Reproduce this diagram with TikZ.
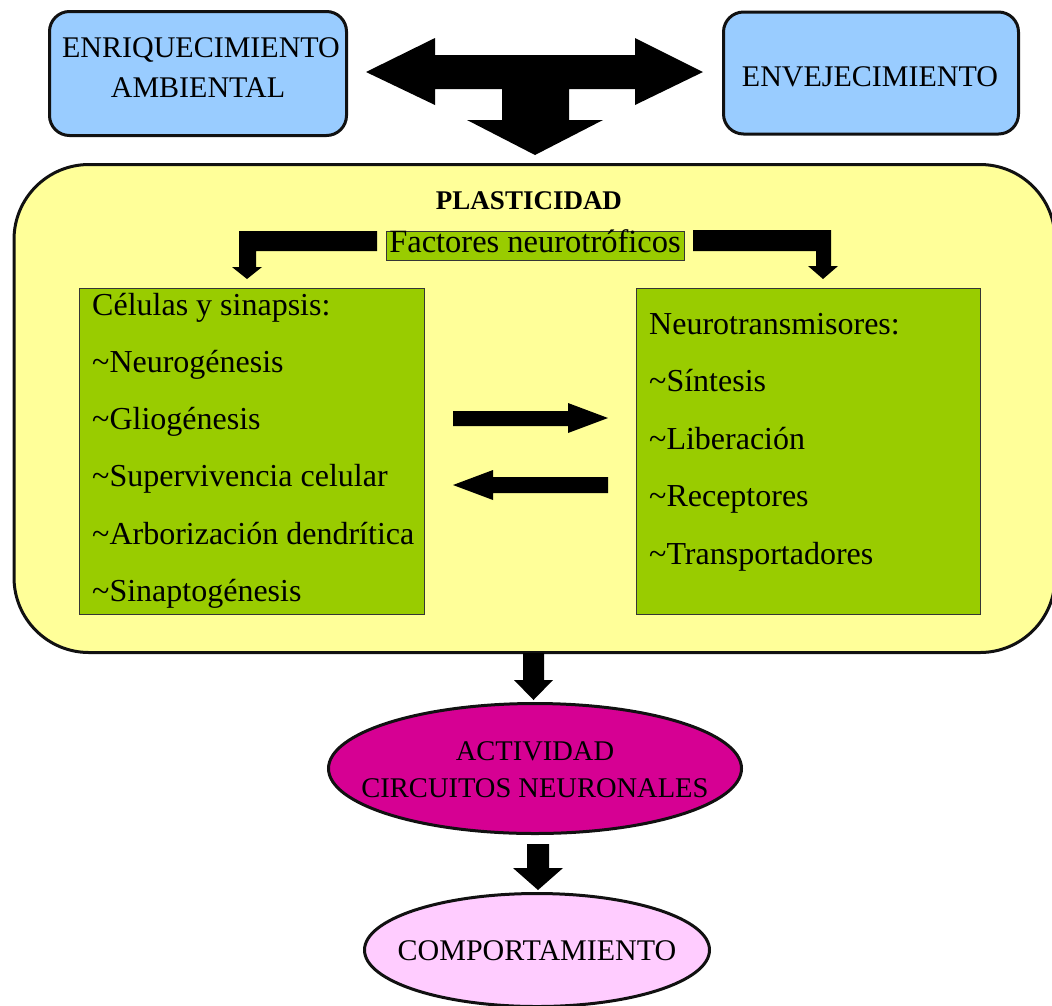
\documentclass[tikz,border=0pt]{standalone}
\usepackage{fontspec}
\setmainfont{Liberation Serif}
\usetikzlibrary{shapes.geometric}
\definecolor{bluefill}{HTML}{99CCFF}
\definecolor{yellowfill}{HTML}{FFFF99}
\definecolor{greenfill}{HTML}{99CC00}
\definecolor{magentafill}{HTML}{D60093}
\definecolor{pinkfill}{HTML}{FFCCFF}
\definecolor{edge}{HTML}{111111}
\tikzset{
  bluebox/.style={draw=edge, line width=3pt, fill=bluefill, rounded corners=20pt, inner sep=0pt},
  plastbox/.style={draw=edge, line width=3pt, fill=yellowfill, rounded corners=75pt, inner sep=0pt},
  greenbox/.style={draw=edge!85, line width=1.2pt, fill=greenfill, inner sep=0pt},
  factbox/.style={draw=edge!85, line width=1pt, fill=greenfill, inner sep=0pt,
    font=\fontsize{32.5}{32}\selectfont, text height=20pt, text depth=6pt},
  ellbox/.style={ellipse, draw=edge, line width=3pt, inner sep=0pt},
  capt/.style={font=\fontsize{30}{34}\selectfont, inner sep=0pt, anchor=base},
  itemtxt/.style={font=\fontsize{32}{32}\selectfont, inner sep=0pt, anchor=base west},
  blockarrow/.style={fill=black, draw=none}
}
\begin{document}
\begin{tikzpicture}[x=1pt, y=-1pt]
\useasboundingbox (0,0) rectangle (1052,1005);
\clip (0,0) rectangle (1052,1005);

% top boxes
\node[bluebox, minimum width=297pt, minimum height=124pt] (enr) at (198,73.5) {};
\node[capt] (enrA) at (201,57) {ENRIQUECIMIENTO};
\node[capt] (enrB) at (198,97) {AMBIENTAL};
\node[bluebox, minimum width=295pt, minimum height=122pt] (env) at (871,73) {};
\node[capt] (envT) at (870,86) {ENVEJECIMIENTO};

% T arrow
\fill[blockarrow] (366,72) -- (435,38) -- (435,55) -- (635,55) -- (635,38) -- (703,72)
  -- (635,105) -- (635,89) -- (569,89) -- (569,120) -- (603,120) -- (535,155)
  -- (467,120) -- (502,120) -- (502,89) -- (435,89) -- (435,105) -- cycle;

% plasticity box
\node[plastbox, minimum width=1041pt, minimum height=488pt] (plast) at (534.5,408.5) {};
\node[capt, font=\bfseries\fontsize{27}{30}\selectfont] (plastT) at (529,209) {PLASTICIDAD};

\node[factbox, minimum width=298pt, minimum height=29pt] (fact) at (535,245.5) {Factores neurotróficos};

% L arrows
\fill[blockarrow] (377,231) -- (239,231) -- (239,267) -- (232,267) -- (247,279) -- (262,267)
  -- (256,267) -- (256,251) -- (377,251) -- cycle;
\fill[blockarrow] (693,230) -- (831,230) -- (831,266) -- (838,266) -- (823,279) -- (808,266)
  -- (816,266) -- (816,251) -- (693,251) -- cycle;

% green boxes
\node[greenbox, minimum width=345pt, minimum height=326pt] (cel) at (252,451.5) {};
\node[greenbox, minimum width=344pt, minimum height=326pt] (neu) at (808.5,451.5) {};

\node[itemtxt] (c0) at (92,315) {Células y sinapsis:};
\node[itemtxt] (c1) at (92,372) {\textasciitilde Neurogénesis};
\node[itemtxt] (c2) at (92,429) {\textasciitilde Gliogénesis};
\node[itemtxt] (c3) at (92,486) {\textasciitilde Supervivencia celular};
\node[itemtxt] (c4) at (92,544) {\textasciitilde Arborización dendrítica};
\node[itemtxt] (c5) at (92,601) {\textasciitilde Sinaptogénesis};

\node[itemtxt] (n0) at (649,334) {Neurotransmisores:};
\node[itemtxt] (n1) at (649,391.5) {\textasciitilde Síntesis};
\node[itemtxt] (n2) at (649,449) {\textasciitilde Liberación};
\node[itemtxt] (n3) at (649,506.5) {\textasciitilde Receptores};
\node[itemtxt] (n4) at (649,564) {\textasciitilde Transportadores};

% middle arrows
\fill[blockarrow] (453,411) -- (568,411) -- (568,403) -- (608,418) -- (568,433) -- (568,426) -- (453,426) -- cycle;
\fill[blockarrow] (608,477) -- (493,477) -- (493,470) -- (453,485) -- (493,500) -- (493,493) -- (608,493) -- cycle;

% ellipses
\node[ellbox, fill=magentafill, minimum width=413pt, minimum height=130pt] (act) at (535,768.5) {};
\node[capt, font=\fontsize{28.5}{34}\selectfont] (actA) at (535,760) {ACTIVIDAD};
\node[capt, font=\fontsize{28.5}{34}\selectfont] (actB) at (535,797.5) {CIRCUITOS NEURONALES};
\node[ellbox, fill=pinkfill, minimum width=345pt, minimum height=113pt] (comp) at (537,950) {};
\node[capt] (compT) at (537,960.5) {COMPORTAMIENTO};

% bottom arrows
\fill[blockarrow] (523,653) -- (544,653) -- (544,680) -- (553,680) -- (533.5,700) -- (514,680) -- (523,680) -- cycle;
\fill[blockarrow] (527,844) -- (549,844) -- (549,868) -- (563,868) -- (538,890) -- (513,868) -- (527,868) -- cycle;
\end{tikzpicture}
\end{document}
